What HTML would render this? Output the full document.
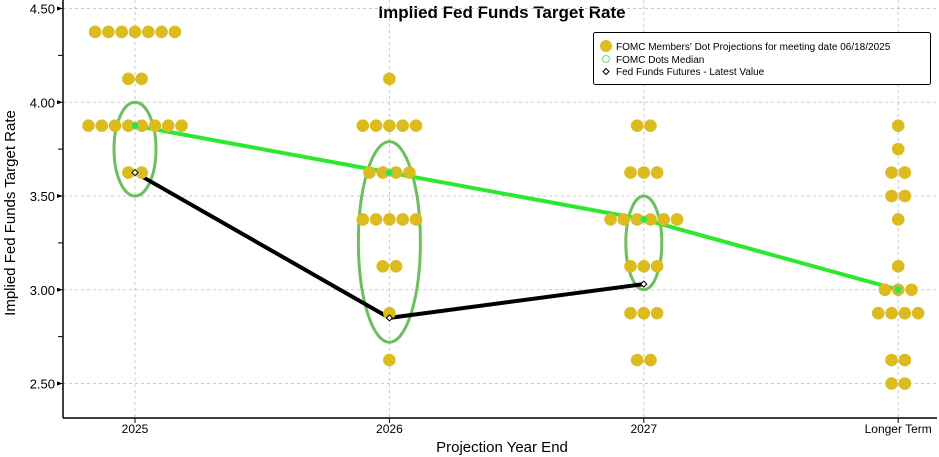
<!DOCTYPE html>
<html><head><meta charset="utf-8"><style>
body{margin:0;background:#fff;}
svg{display:block;font-family:"Liberation Sans","DejaVu Sans",sans-serif;}
</style></head><body>
<svg id="chart" width="939" height="457">
<text x="502" y="18" text-anchor="middle" font-size="17" font-weight="bold">Implied Fed Funds Target Rate</text>
<g id="grid"></g>
<g id="axes"></g>
<g id="ellipses"></g>
<g id="lines"></g>
<g id="dots"></g>
<g id="markers"></g>
<text x="15" y="213" text-anchor="middle" font-size="15" transform="rotate(-90 15 213)">Implied Fed Funds Target Rate</text>
<text x="502" y="452" text-anchor="middle" font-size="15">Projection Year End</text>
<g>
<rect x="593.5" y="32.5" width="337" height="52" rx="2" fill="#fff" stroke="#000"/>
<circle cx="606" cy="46" r="6" fill="#dfbd1f"/>
<text x="616" y="50" font-size="10">FOMC Members' Dot Projections for meeting date 06/18/2025</text>
<circle cx="606" cy="59" r="3.5" fill="none" stroke="#7ccf7c" stroke-width="1"/>
<text x="616" y="63" font-size="10">FOMC Dots Median</text>
<path d="M606 68.5 L609 71.5 L606 74.5 L603 71.5Z" fill="#fff" stroke="#000"/>
<text x="616" y="75" font-size="10">Fed Funds Futures - Latest Value</text>
</g>
</svg>
<script>
const categories = ["2025","2026","2027","Longer Term"];
const dotLevels = [
  [[4.375,7],[4.125,2],[3.875,8],[3.625,2]],
  [[4.125,1],[3.875,5],[3.625,4],[3.375,5],[3.125,2],[2.875,1],[2.625,1]],
  [[3.875,2],[3.625,3],[3.375,6],[3.125,3],[2.875,3],[2.625,2]],
  [[3.875,1],[3.75,1],[3.625,2],[3.5,2],[3.375,1],[3.125,1],[3.0,3],[2.875,4],[2.625,2],[2.5,2]]
];
const medianValues = [3.875, 3.625, 3.375, 3.0];
const futuresValues = [3.625, 2.85, 3.03];
const yTicks = [2.5, 3.0, 3.5, 4.0, 4.5];
const ellipseRanges = [[3.5,4.0],[2.72,3.79],[3.0,3.5]];

const NS="http://www.w3.org/2000/svg";
const X0=63, X1=937, YB=418;
function yS(v){return 8.5+(4.5-v)*187.5;}
function xS(i){return 135+i*254.4;}
function mk(tag,attrs,parent){const e=document.createElementNS(NS,tag);for(const k in attrs)e.setAttribute(k,attrs[k]);document.getElementById(parent).appendChild(e);return e;}

yTicks.forEach(v=>{
  const g=mk('line',{x1:X0,x2:X1,y1:yS(v),y2:yS(v),stroke:'#c8c8c8','stroke-dasharray':'3,3'},'grid');
  
  
  const t=mk('text',{x:55,y:yS(v)+5,'text-anchor':'end','font-size':13},'axes');
  t.textContent=v.toFixed(2);
  
  
  mk('path',{d:`M${X0} ${yS(v)} L${X0-6} ${yS(v)-2} L${X0-6} ${yS(v)+2}Z`,fill:'#000'},'axes');
});
for(let v=2.75;v<=4.5;v+=0.5){ mk('line',{x1:X0-5,x2:X0,y1:yS(v),y2:yS(v),stroke:'#000'},'axes'); }
categories.forEach((c,i)=>{
  const g=mk('line',{x1:xS(i),x2:xS(i),y1:0,y2:YB,stroke:'#c8c8c8','stroke-dasharray':'3,3'},'grid');
  
  
  mk('line',{x1:xS(i),x2:xS(i),y1:YB,y2:YB+5,stroke:'#000'},'axes');
  const t=mk('text',{x:xS(i),y:433,'text-anchor':'middle','font-size':12},'axes');
  t.textContent=c;
  
  
});
mk('line',{x1:X0,x2:X0,y1:0,y2:YB,stroke:'#000','stroke-width':1.5},'axes');
mk('line',{x1:X0,x2:X1,y1:YB,y2:YB,stroke:'#000','stroke-width':1.5},'axes');

dotLevels.forEach((levels,i)=>{
  levels.forEach(([v,n])=>{
    for(let k=0;k<n;k++){
      const d=mk('circle',{cx:xS(i)+(k-(n-1)/2)*13.3,cy:yS(v),r:6.3,fill:'#dcbb1e'},'dots');
      
      
    }
  });
});
ellipseRanges.forEach((r,i)=>{
  const cy=(yS(r[0])+yS(r[1]))/2, ry=Math.abs(yS(r[0])-yS(r[1]))/2;
  const e=mk('ellipse',{cx:xS(i),cy:cy,rx:[21,31,18][i],ry:ry,fill:'none',stroke:'#6cbf5c','stroke-width':3},'ellipses');
  
  
});
const mp=medianValues.map((v,i)=>`${xS(i)},${yS(v)}`).join(' ');
const ml=mk('polyline',{points:mp,fill:'none',stroke:'#2ee82e','stroke-width':4},'lines');


const fp=futuresValues.map((v,i)=>`${xS(i)},${yS(v)}`).join(' ');
const fl=mk('polyline',{points:fp,fill:'none',stroke:'#000','stroke-width':4},'lines');


medianValues.forEach((v,i)=>{
  const c=mk('circle',{cx:xS(i),cy:yS(v),r:3.5,fill:'#2ee82e',stroke:'#7ccf7c'},'markers');
  
  
});
futuresValues.forEach((v,i)=>{
  const x=xS(i),y=yS(v);
  const p=mk('path',{d:`M${x} ${y-3} L${x+3} ${y} L${x} ${y+3} L${x-3} ${y}Z`,fill:'#fff',stroke:'#000'},'markers');
  
  
});
</script>
</body></html>
